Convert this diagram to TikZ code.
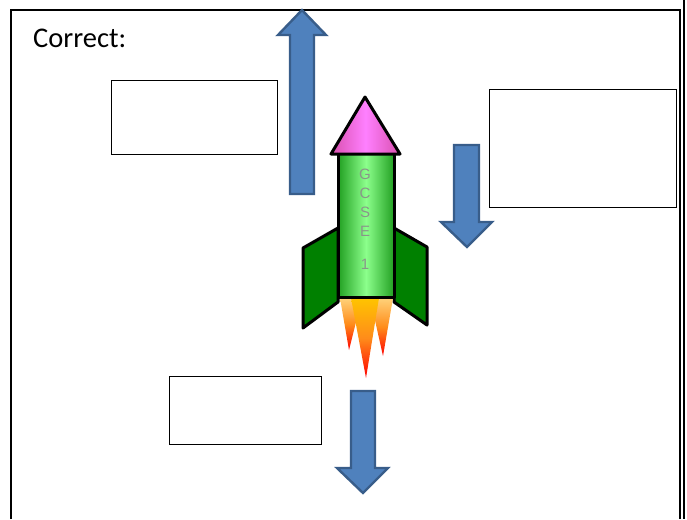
\documentclass[tikz,border=0pt]{standalone}
\usepackage{fontspec}
\setmainfont{Carlito}
\newfontfamily\rocketfont{Liberation Sans}
\definecolor{arrowfill}{HTML}{4F81BD}
\definecolor{arrowline}{HTML}{385D8A}
\definecolor{finGreen}{HTML}{008000}
\definecolor{bodyEdge}{HTML}{22A022}
\definecolor{bodyMid}{HTML}{8CFF8C}
\definecolor{noseEdge}{HTML}{D94FAE}
\definecolor{noseMid}{HTML}{FF80FF}
\definecolor{flamePale}{HTML}{FFD27A}
\definecolor{flameOrange}{HTML}{FF8C1A}
\definecolor{flameGold}{HTML}{FFC400}
\definecolor{letterGray}{HTML}{8A968A}
\tikzset{
  answerbox/.style={draw=black, line width=1pt, fill=white, inner sep=0pt},
  blockarrow/.style={fill=arrowfill, draw=arrowline, line width=2.4pt, line join=miter},
  rocketline/.style={draw=black, line width=3pt, line join=round},
  rocketletter/.style={font=\rocketfont\fontsize{15}{15}\selectfont, text=letterGray, inner sep=0pt},
}
\begin{document}
\begin{tikzpicture}[x=1pt,y=-1pt]
\useasboundingbox (0,0) rectangle (687,519);
\fill[white] (0,0) rectangle (687,519);
% frame
\draw[line width=1.6pt] (11,519) -- (11,10) -- (680,10) -- (680,519);
\draw[line width=2.6pt] (684,0) -- (684,519);
% title
\node[anchor=base west, inner sep=0pt, font=\fontsize{28.5}{30}\selectfont] (title) at (33,48) {Correct:};
% answer boxes
\node[answerbox, minimum width=166pt, minimum height=74pt] (boxa) at (194,117) {};
\node[answerbox, minimum width=187pt, minimum height=118pt] (boxb) at (582.5,148) {};
\node[answerbox, minimum width=152pt, minimum height=68pt] (boxc) at (245,410) {};
% arrows
\path[blockarrow] (290,194) -- (290,35) -- (278,35) -- (302,10) -- (326,35) -- (314,35) -- (314,194) -- cycle;
\path[blockarrow] (454,145) -- (479,145) -- (479,222) -- (492,222) -- (467,247) -- (441,222) -- (454,222) -- cycle;
\path[blockarrow] (351,391) -- (375,391) -- (375,468) -- (388,468) -- (363,493) -- (337,468) -- (351,468) -- cycle;
% fins
\path[rocketline, fill=finGreen] (303,248) -- (338,228) -- (338,302) -- (303,328) -- cycle;
\path[rocketline, fill=finGreen] (394,228) -- (427,247) -- (427,325) -- (394,302) -- cycle;
% flames
\shade[top color=flamePale, bottom color=red, middle color=flameOrange] (340,298) -- (362,298) -- (349,350) -- cycle;
\shade[top color=flamePale, bottom color=red, middle color=flameOrange] (370,298) -- (393,298) -- (383,356) -- cycle;
\shade[top color=flameGold, bottom color=red, middle color=flameOrange] (351,298) -- (379,298) -- (366,378) -- cycle;
% body
\path[rocketline, left color=bodyEdge, right color=bodyEdge, middle color=bodyMid] (338,153) rectangle (394,297);
% nose
\path[rocketline, left color=noseEdge, right color=noseEdge, middle color=noseMid] (331,154) -- (365,97) -- (400,154) -- cycle;
% letters
\node[rocketletter] (lg) at (365,174) {G};
\node[rocketletter] (lc) at (365,193) {C};
\node[rocketletter] (ls) at (365,212) {S};
\node[rocketletter] (le) at (365,231) {E};
\node[rocketletter] (lone) at (365,264) {1};
\end{tikzpicture}
\end{document}
